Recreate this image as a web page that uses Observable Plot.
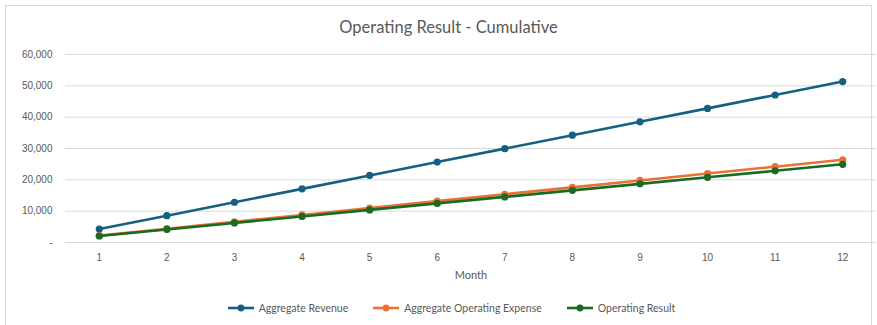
<!DOCTYPE html>
<html><head><meta charset="utf-8">
<script src="https://cdn.jsdelivr.net/npm/d3@7"></script>
<script src="https://cdn.jsdelivr.net/npm/@observablehq/plot@0.6"></script>
<style>
body{margin:0;background:#fff;font-family:Lato,"Open Sans",sans-serif;}
#wrap{position:relative;width:877px;height:325px;overflow:hidden;}
#frame{position:absolute;left:5px;top:5px;width:867px;height:330px;border:1px solid #d9d9d9;box-sizing:border-box;}
#title{position:absolute;left:0;top:17px;width:897px;text-align:center;font-size:16.5px;color:#595959;}
#chart{position:absolute;left:0;top:44px;}
#legend{position:absolute;left:13px;top:302px;width:877px;display:flex;justify-content:center;gap:25px;font-size:10.5px;color:#595959;}
.item{display:flex;align-items:center;gap:5px;}
</style></head>
<body>
<div id="wrap">
<div id="frame"></div>
<div id="title">Operating Result - Cumulative</div>
<div id="chart"></div>
<div id="legend"></div>
</div>
<script>
const months = [1,2,3,4,5,6,7,8,9,10,11,12];
const revenue = [4280,8560,12840,17120,21400,25680,29960,34240,38520,42800,47080,51360];
const expense = [2200,4400,6600,8800,11000,13200,15400,17600,19800,22000,24200,26400];
const result  = [2080,4160,6240,8320,10400,12480,14560,16640,18720,20800,22880,24960];
const seriesNames = ["Aggregate Revenue","Aggregate Operating Expense","Operating Result"];
const seriesColors = ["#156082","#E97132","#196B24"];
const yTicks = [0,10000,20000,30000,40000,50000,60000];

const values = [revenue, expense, result];
const data = [];
seriesNames.forEach((s,i)=>months.forEach((m,j)=>data.push({series:s, month:m, value:values[i][j]})));

const plot = Plot.plot({
  width: 877, height: 246,
  marginLeft: 65, marginRight: 1, marginTop: 10, marginBottom: 48,
  style: {fontFamily: "'Liberation Sans', Arial, sans-serif", fontSize: "10px", color: "#595959", background: "transparent"},
  x: {type: "point", domain: months, padding: 0.5, round: false, label: "Month", labelAnchor: "center", labelOffset: 36, tickSize: 0, tickPadding: 11},
  y: {domain: [0, 60000], ticks: yTicks, tickFormat: d => d === 0 ? "-" : d3.format(",")(d), tickSize: 0, tickPadding: 13, label: null},
  color: {domain: seriesNames, range: seriesColors},
  marks: [
    Plot.gridY(yTicks, {stroke: "#d9d9d9", strokeOpacity: 1}),
    Plot.line(data, {x: "month", y: "value", stroke: "series", strokeWidth: 2.6}),
    Plot.dot(data, {x: "month", y: "value", fill: "series", r: 3.6}),
    Plot.axisX({tickSize: 0, tickPadding: 11, label: "Month", labelAnchor: "center", labelOffset: 36, fontSize: 10}),
    Plot.axisY({ticks: yTicks, tickFormat: d => d === 0 ? "-" : d3.format(",")(d), tickSize: 0, tickPadding: 13, label: null})
  ]
});
plot.querySelectorAll('[aria-label="x-axis label"] text').forEach(t=>{t.style.fontFamily="Lato, sans-serif"; t.style.fontSize="11px";});
document.getElementById("chart").appendChild(plot);

const leg = document.getElementById("legend");
seriesNames.forEach((s,i)=>{
  const it = document.createElement("div"); it.className="item";
  it.innerHTML = `<svg width="26" height="10"><line x1="0" y1="5" x2="26" y2="5" stroke="${seriesColors[i]}" stroke-width="2.6"/><circle cx="13" cy="5" r="3.4" fill="${seriesColors[i]}"/></svg><span>${s}</span>`;
  leg.appendChild(it);
});
</script>
</body></html>
